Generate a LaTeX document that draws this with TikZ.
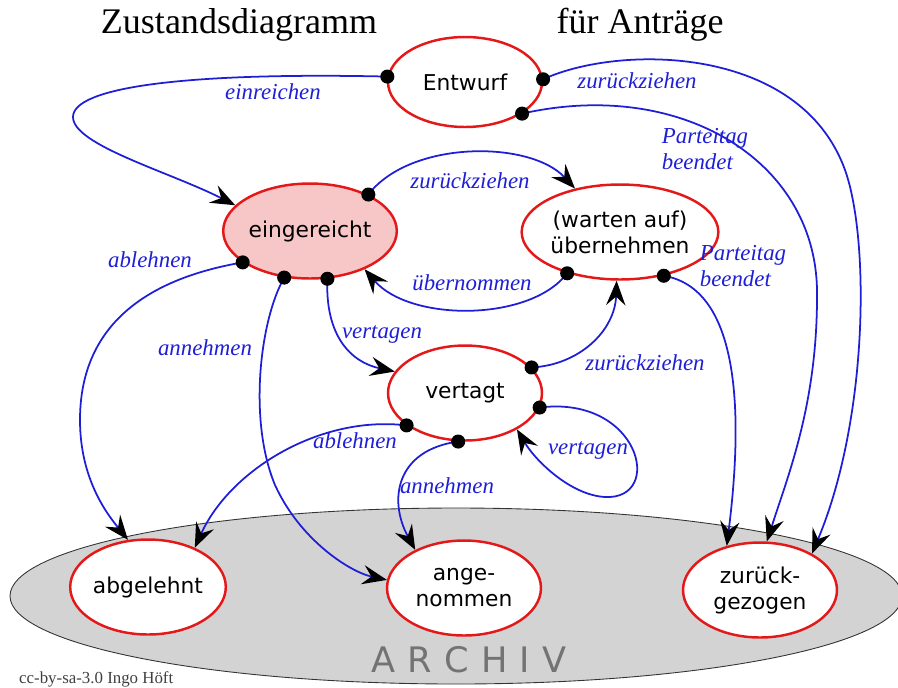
\documentclass[tikz,border=0pt]{standalone}
\usepackage{fontspec}
\setmainfont{Liberation Serif}
\newfontfamily\statefont{DejaVu Sans}
\usetikzlibrary{shapes.geometric,arrows.meta}
\definecolor{statered}{RGB}{228,24,24}
\definecolor{edgeblue}{RGB}{30,30,215}
\definecolor{pinkfill}{RGB}{247,198,198}
\definecolor{archivgray}{RGB}{211,211,211}
\definecolor{archivtext}{RGB}{115,115,115}
\tikzset{
  state/.style={ellipse,draw=statered,line width=1.4pt,fill=white,
    minimum width=3.08cm,minimum height=1.9cm,inner sep=0pt,align=center,
    font=\statefont\fontsize{12.4}{14.8}\selectfont},
  trans/.style={draw=edgeblue,line width=1pt,
    -{Stealth[color=black,length=14pt,width=11pt,inset=5pt]}},
  lab/.style={text=edgeblue,inner sep=0pt,align=left,
    font=\itshape\fontsize{13}{15.3}\selectfont},
}
\begin{document}
\begin{tikzpicture}[x=0.02cm,y=-0.02cm]
\useasboundingbox (0,0) rectangle (898,687);
% archive
\draw[fill=archivgray,draw=black!80,line width=0.5pt] (456,596) ellipse [x radius=446,y radius=88];
\node[text=archivtext,font=\statefont\fontsize{20}{24}\selectfont] (arch) at (469,660)
  {A\kern7pt R\kern7pt C\kern7pt H\kern7pt I\kern7pt V};
% titles
\node[font=\fontsize{20.5}{24}\selectfont] (title1) at (239,25) {Zustandsdiagramm};
\node[font=\fontsize{20.5}{24}\selectfont] (title2) at (640,25) {für Anträge};
\node[anchor=west,text=black!75,font=\fontsize{9.6}{11}\selectfont] (credit) at (13,679) {cc-by-sa-3.0 Ingo Höft};
% states
\node[state,minimum height=1.8cm] (ent) at (465,82) {Entwurf};
\node[state,fill=pinkfill] (ein) at (310,231) {eingereicht};
\node[state] (war) at (620,232) {(warten auf)\\übernehmen};
\node[state] (ver) at (465,393) {vertagt};
\node[state] (abg) at (148,587) {abgelehnt};
\node[state] (ang) at (464,588) {ange-\\nommen};
\node[state] (zur) at (760,590) {zurück-\\gezogen};
% transitions
\draw[trans] (ent.176) .. controls (180,72) and (73,88) .. (73,117)
  .. controls (73,145) and (170,172) .. (ein.161);
\draw[trans] (ent.2) .. controls (620,44) and (800,45) .. (845,170)
  .. controls (870,240) and (868,420) .. (zur.35);
\draw[trans] (ent.331) .. controls (680,78) and (815,160) .. (817,290)
  .. controls (818,400) and (790,470) .. (zur.82);
\draw[trans] (ein.32) .. controls (410,140) and (530,140) .. (war.136);
\draw[trans] (war.218) .. controls (530,322) and (410,322) .. (ein.325);
\draw[trans] (war.315) .. controls (748,290) and (740,440) .. (zur.127);
\draw[trans] (ein.205) .. controls (140,280) and (80,330) .. (80,420)
  .. controls (80,480) and (108,515) .. (abg.113);
\draw[trans] (ein.241) .. controls (260,320) and (248,420) .. (275,485)
  .. controls (300,540) and (350,572) .. (ang.174);
\draw[trans] (ein.290) .. controls (325,335) and (350,362) .. (ver.163);
\draw[trans] (ver.21) .. controls (580,365) and (615,330) .. (war.266);
\draw[trans] (ver.349) .. controls (640,395) and (665,500) .. (605,497)
  .. controls (570,495) and (535,460) .. (ver.325);
\draw[trans] (ver.209) .. controls (320,415) and (230,470) .. (abg.40);
\draw[trans] (ver.262) .. controls (396,450) and (388,500) .. (ang.142);
% labels
\node[lab] (l1) at (273,92) {einreichen};
\node[lab] (l2) at (637,81) {zurückziehen};
\node[lab] (l3) at (705,149) {Parteitag\\beendet};
\node[lab] (l4) at (470,181) {zurückziehen};
\node[lab] (l5) at (472,283) {übernommen};
\node[lab] (l6) at (743,266) {Parteitag\\beendet};
\node[lab] (l7) at (150,260) {ablehnen};
\node[lab] (l8) at (205,348) {annehmen};
\node[lab] (l9) at (382,334) {vertagen};
\node[lab] (l10) at (645,363) {zurückziehen};
\node[lab] (l11) at (588,450) {vertagen};
\node[lab] (l12) at (355,441) {ablehnen};
\node[lab] (l13) at (447,486) {annehmen};
% dots
\foreach \p in {ent.176,ent.2,ent.331,ein.32,ein.205,ein.241,ein.290,
  war.218,war.315,ver.21,ver.349,ver.209,ver.262}
  \fill (\p) circle[radius=4pt];
\end{tikzpicture}
\end{document}
